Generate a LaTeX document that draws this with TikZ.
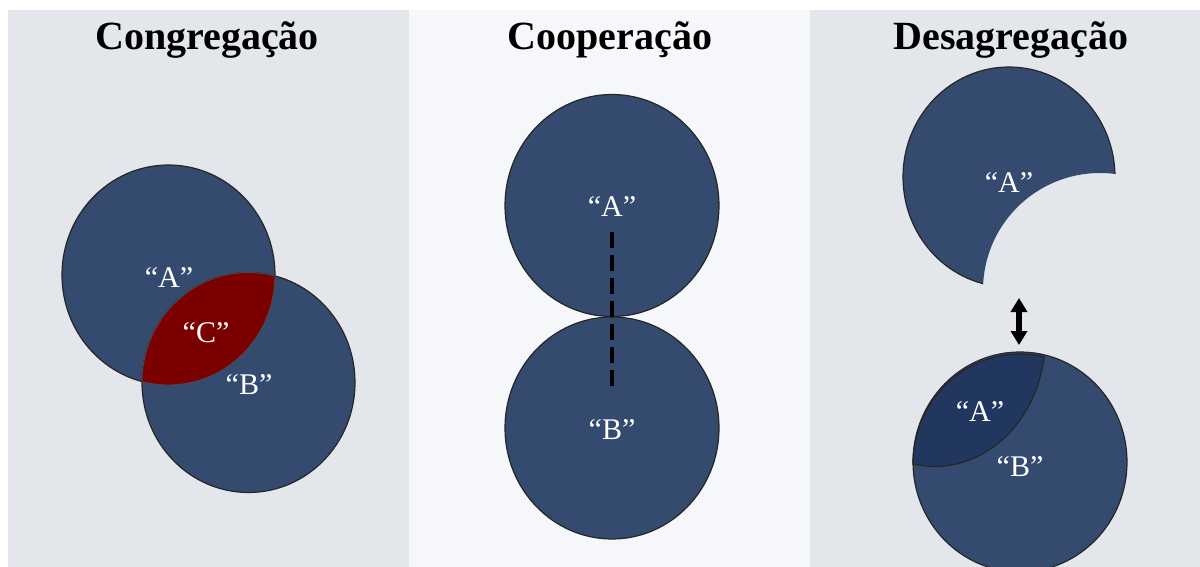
\documentclass[tikz,border=0pt]{standalone}
\usepackage{fontspec}
\setmainfont{Liberation Serif}
\usetikzlibrary{arrows.meta}
\definecolor{panelA}{HTML}{E3E7EC}
\definecolor{panelB}{HTML}{F5F7FA}
\definecolor{blobblue}{HTML}{344A6F}
\definecolor{darkpiece}{HTML}{22375F}
\definecolor{lensred}{HTML}{7B0000}
\tikzset{
  blob/.style={fill=blobblue, draw=black!85, line width=0.6pt},
  lbl/.style={text=white, font=\fontsize{15}{17}\selectfont, inner sep=0pt},
  ttl/.style={font=\bfseries\fontsize{20}{24}\selectfont, inner sep=0pt, anchor=base},
  dashline/.style={line width=2.4pt, dash pattern=on 8pt off 3.5pt},
  dblarrow/.style={line width=2.6pt, {Triangle[width=8pt,length=7pt]}-{Triangle[width=8pt,length=7pt]}}
}
\begin{document}
\begin{tikzpicture}[x=0.5pt, y=-0.5pt]
\useasboundingbox (0,0) rectangle (1200,567);
\fill[white] (0,0) rectangle (1200,567);
% panels
\fill[panelA] (8,10) rectangle (409,567);
\fill[panelB] (409,10) rectangle (810,567);
\fill[panelA] (810,10) rectangle (1200,567);
% titles
\node[ttl] (t1) at (207,50) {Congregação};
\node[ttl] (t2) at (610,50) {Cooperação};
\node[ttl] (t3) at (1011,50) {Desagregação};

% ---------- Congregacao ----------
\path[blob] (168.5,275) ellipse [x radius=106.5, y radius=110];
\path[blob] (248.5,382.5) ellipse [x radius=106.5, y radius=110];
\begin{scope}
  \clip (168.5,275) ellipse [x radius=106.5, y radius=110];
  \fill[lensred] (248.5,382.5) ellipse [x radius=106.5, y radius=110];
  \draw[black!70, line width=0.4pt] (248.5,382.5) ellipse [x radius=106.5, y radius=110];
\end{scope}
\begin{scope}
  \clip (248.5,382.5) ellipse [x radius=106.5, y radius=110];
  \draw[black!70, line width=0.4pt] (168.5,275) ellipse [x radius=106.5, y radius=110];
\end{scope}
\node[lbl] (a1) at (169,278) {“A”};
\node[lbl] (c1) at (206,333) {“C”};
\node[lbl] (b1) at (249,385) {“B”};

% ---------- Cooperacao ----------
\path[blob] (612,205.5) ellipse [x radius=107, y radius=111];
\path[blob] (612,428) ellipse [x radius=107, y radius=111];
\coordinate (d1) at (612,232);
\coordinate (d2) at (612,387);
\draw[dashline] (d1) -- (d2);
\node[lbl] (a2) at (612,207) {“A”};
\node[lbl] (b2) at (612,430) {“B”};

% ---------- Desagregacao ----------
\begin{scope}[even odd rule]
  \clip (0,0) rectangle (1200,567) (1100,290) circle [radius=117];
  \path[blob] (1009,177) ellipse [x radius=106, y radius=110];
\end{scope}
\begin{scope}
  \clip (0,0) rectangle (1200,567);
  \path[blob] (1020,462) ellipse [x radius=107, y radius=110];
\end{scope}
\path[fill=darkpiece, draw=black!85, line width=0.6pt]
  (913,464) arc[start angle=180, end angle=283, x radius=107, y radius=110]
  .. controls (1035,430) and (975,478) .. (913,464) -- cycle;
\coordinate (ar1) at (1019,298);
\coordinate (ar2) at (1019,345);
\draw[dblarrow] (ar1) -- (ar2);
\node[lbl] (a3) at (1009,183) {“A”};
\node[lbl] (a4) at (980,412) {“A”};
\node[lbl] (b4) at (1020,467) {“B”};
\end{tikzpicture}
\end{document}
